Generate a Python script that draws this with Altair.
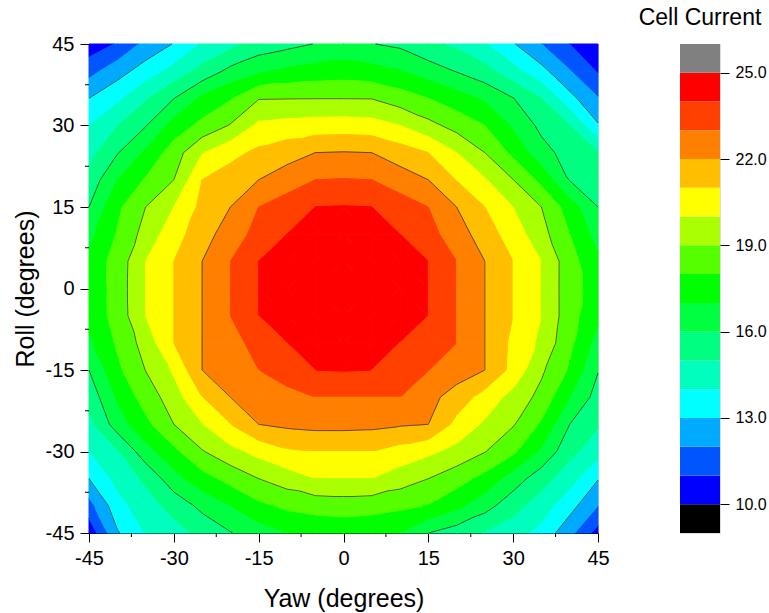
import altair as alt
import pandas as pd

# ---------------- data ----------------
yaw_values = [-45, -40, -35, -30, -25, -20, -15, -10, -5, 0, 5, 10, 15, 20, 25, 30, 35, 40, 45]
roll_values = [45, 40, 35, 30, 25, 20, 15, 10, 5, 0, -5, -10, -15, -20, -25, -30, -35, -40, -45]

# cell current, one row per roll value (top row = roll 45), columns = yaw values
current = [
    [10.4, 11.08, 12.29, 13.05, 14.1, 14.7, 15.41, 15.7, 16.03, 16.3, 16.03, 15.8, 15.2, 14.8, 14.08, 13.08, 12.0, 11.0, 10.4],
    [11.64, 12.6, 13.46, 14.34, 15.33, 16.28, 16.84, 17.2, 17.4, 17.5, 17.35, 17.05, 16.51, 15.95, 15.36, 14.35, 13.33, 12.06, 10.9],
    [13.0, 13.78, 14.88, 15.98, 17.2, 17.9, 18.95, 18.97, 18.98, 18.98, 18.97, 18.5, 18.0, 17.44, 16.84, 16.03, 15.0, 13.33, 12.05],
    [14.0, 14.98, 15.94, 17.39, 18.29, 19.07, 20.2, 20.35, 20.45, 20.48, 20.4, 20.0, 19.31, 18.64, 18.0, 16.86, 15.74, 15.0, 13.1],
    [14.65, 15.93, 17.17, 18.51, 19.94, 20.7, 21.23, 21.61, 22.0, 22.05, 22.0, 21.49, 21.0, 20.0, 19.0, 17.75, 16.38, 15.57, 15.05],
    [15.35, 17.0, 18.09, 19.0, 21.0, 21.49, 22.0, 22.49, 23.0, 23.05, 23.0, 22.5, 22.0, 20.96, 20.09, 19.02, 17.71, 15.95, 15.5],
    [16.0, 17.8, 19.0, 20.0, 21.26, 22.0, 23.0, 23.5, 24.0, 24.05, 24.0, 23.5, 23.0, 22.0, 21.0, 20.0, 19.0, 17.5, 16.0],
    [16.7, 18.06, 19.38, 20.59, 21.57, 22.5, 23.33, 24.0, 24.4, 24.5, 24.4, 24.0, 23.33, 22.5, 21.48, 20.52, 19.37, 18.0, 16.6],
    [17.3, 18.4, 20.0, 21.0, 22.0, 23.0, 24.0, 24.6, 24.85, 24.9, 24.85, 24.6, 24.0, 23.0, 22.0, 21.0, 20.0, 18.4, 17.2],
    [17.2, 18.44, 20.0, 21.0, 22.0, 23.0, 24.0, 24.6, 24.9, 24.95, 24.9, 24.6, 24.0, 23.0, 22.0, 21.0, 20.0, 18.39, 17.5],
    [17.25, 18.4, 20.0, 21.0, 22.0, 23.0, 24.0, 24.6, 24.85, 24.9, 24.85, 24.6, 24.0, 23.0, 22.0, 21.0, 20.0, 18.4, 17.2],
    [16.82, 18.13, 19.42, 21.0, 22.0, 22.67, 23.33, 24.0, 24.4, 24.5, 24.4, 23.98, 23.51, 23.0, 22.0, 20.74, 19.78, 18.24, 16.6],
    [16.0, 17.78, 19.02, 20.14, 22.0, 22.5, 23.0, 23.5, 24.0, 24.05, 24.0, 23.51, 23.02, 22.51, 22.0, 20.67, 19.17, 17.86, 16.05],
    [15.35, 17.14, 18.44, 19.52, 21.0, 22.0, 22.33, 22.67, 23.0, 23.0, 23.0, 23.0, 22.33, 21.55, 20.6, 19.66, 18.69, 17.0, 15.6],
    [14.7, 16.5, 17.73, 19.0, 19.95, 21.0, 22.0, 22.2, 22.3, 22.3, 22.25, 22.1, 22.0, 20.72, 19.85, 19.08, 17.86, 16.0, 15.1],
    [14.0, 14.91, 16.6, 17.74, 18.93, 19.69, 20.31, 20.85, 21.0, 21.0, 21.0, 20.6, 20.2, 19.7, 19.04, 18.18, 16.83, 15.29, 14.4],
    [13.0, 14.3, 15.19, 16.62, 17.59, 18.34, 19.0, 19.5, 20.0, 20.0, 20.0, 19.5, 19.0, 18.41, 17.67, 16.52, 15.42, 14.4, 13.05],
    [11.6, 13.64, 14.54, 15.36, 16.26, 17.0, 17.77, 18.2, 18.4, 18.48, 18.4, 18.2, 17.95, 17.27, 16.38, 15.38, 14.47, 13.38, 12.0],
    [10.3, 12.9, 14.05, 14.6, 15.3, 15.95, 16.5, 17.0, 17.2, 17.3, 17.2, 17.0, 16.0, 15.5, 14.95, 14.4, 13.7, 12.3, 10.6],
]

# colour levels of the map (band code = lower edge; 9 = below 10, 25 = above 25)
band_codes = [9, 10, 11, 12, 13, 14, 15, 16, 17, 18, 19, 20, 21, 22, 23, 24, 25]
band_colors = ["#000000", "#0000FF", "#0055FF", "#00AAFF", "#00FFFF", "#00FFBF", "#00FF80",
               "#00FF40", "#00FF00", "#55FF00", "#AAFF00", "#FFFF00", "#FFBF00", "#FF8000",
               "#FF4000", "#FF0000", "#808080"]
line_levels = [13, 16, 19, 22, 25]
colorbar_ticks = [10, 13, 16, 19, 22, 25]
x_ticks = [-45, -30, -15, 0, 15, 30, 45]
minor_ticks = [-37.5, -22.5, -7.5, 7.5, 22.5, 37.5]

# ---------------- contouring (linear interpolation on a triangulated grid) ----------------
BIG = 1e9


def band_bounds(code):
    if code == 9:
        return -BIG, 10
    if code == 25:
        return 25, BIG
    return code, code + 1


def clip(pts, vals, thr, keep_above):
    out_p, out_v = [], []
    n = len(pts)
    for k in range(n):
        p, v = pts[k], vals[k]
        q, w = pts[(k + 1) % n], vals[(k + 1) % n]
        pin = v >= thr if keep_above else v <= thr
        qin = w >= thr if keep_above else w <= thr
        if pin:
            out_p.append(p)
            out_v.append(v)
        if pin != qin:
            t = (thr - v) / (w - v)
            out_p.append((p[0] + t * (q[0] - p[0]), p[1] + t * (q[1] - p[1])))
            out_v.append(thr)
    return out_p, out_v


def area(pts):
    s = 0.0
    for k in range(len(pts)):
        x1, y1 = pts[k]
        x2, y2 = pts[(k + 1) % len(pts)]
        s += x1 * y2 - x2 * y1
    return abs(s) / 2


poly_rows = []
seg_rows = []
pid = 0
for i in range(len(roll_values) - 1):
    for j in range(len(yaw_values) - 1):
        p00 = (yaw_values[j], roll_values[i]); z00 = current[i][j]
        p01 = (yaw_values[j + 1], roll_values[i]); z01 = current[i][j + 1]
        p10 = (yaw_values[j], roll_values[i + 1]); z10 = current[i + 1][j]
        p11 = (yaw_values[j + 1], roll_values[i + 1]); z11 = current[i + 1][j + 1]
        if abs(z00 - z11) <= abs(z01 - z10):
            tris = [([p00, p01, p11], [z00, z01, z11]), ([p00, p11, p10], [z00, z11, z10])]
        else:
            tris = [([p00, p01, p10], [z00, z01, z10]), ([p01, p11, p10], [z01, z11, z10])]
        for pts, vals in tris:
            zmin, zmax = min(vals), max(vals)
            for code in band_codes:
                lo, hi = band_bounds(code)
                if hi < zmin or lo > zmax:
                    continue
                pp, vv = clip(pts, vals, lo, True)
                if len(pp) < 3:
                    continue
                pp, vv = clip(pp, vv, hi, False)
                if len(pp) < 3 or area(pp) < 1e-6:
                    continue
                ring = pp + [pp[0]]
                for k, (x, y) in enumerate(ring):
                    poly_rows.append({"pid": pid, "k": k, "yaw": x, "roll": y, "band": code})
                pid += 1
            for lev in line_levels:
                above = [v >= lev for v in vals]
                if all(above) or not any(above):
                    continue
                cross = []
                for a in range(3):
                    b = (a + 1) % 3
                    if above[a] != above[b]:
                        t = (lev - vals[a]) / (vals[b] - vals[a])
                        cross.append((pts[a][0] + t * (pts[b][0] - pts[a][0]),
                                      pts[a][1] + t * (pts[b][1] - pts[a][1])))
                if len(cross) == 2:
                    (xa, ya), (xb, yb) = cross
                    if abs(xa - xb) + abs(ya - yb) > 1e-6:
                        seg_rows.append({"x1": xa, "y1": ya, "x2": xb, "y2": yb})

poly_df = pd.DataFrame(poly_rows)
seg_df = pd.DataFrame(seg_rows)
minor_df = pd.DataFrame({"v": minor_ticks})

cb_df = pd.DataFrame({
    "band": band_codes,
    "lo": [band_bounds(c)[0] if c != 9 else 9 for c in band_codes],
    "hi": [band_bounds(c)[1] if c != 25 else 26 for c in band_codes],
})

# ---------------- chart ----------------
FONT = "Liberation Sans"
W, H = 509, 489

xscale = alt.Scale(domain=[-45, 45], nice=False, zero=False)
yscale = alt.Scale(domain=[-45, 45], nice=False, zero=False)
color_scale = alt.Scale(domain=band_codes, range=band_colors)

x_axis = alt.Axis(values=x_ticks, title="Yaw (degrees)", tickSize=9, tickColor="black",
                  domainColor="black", labelFontSize=20, labelColor="black", labelFont=FONT,
                  labelPadding=6, labelFlush=False, labelExpr="'' + datum.value",
                  titleFontSize=25, titleFont=FONT,
                  titleFontWeight="normal", titleColor="black", titlePadding=18, grid=False)
y_axis = alt.Axis(values=x_ticks, title="Roll (degrees)", tickSize=9, tickColor="black",
                  domainColor="black", labelFontSize=20, labelColor="black", labelFont=FONT,
                  labelPadding=6, labelFlush=False, labelExpr="'' + datum.value",
                  titleFontSize=25, titleFont=FONT,
                  titleFontWeight="normal", titleColor="black", titlePadding=7, grid=False)

fills = alt.Chart(poly_df).mark_line(filled=True, strokeWidth=1.0, interpolate="linear").encode(
    x=alt.X("yaw:Q", scale=xscale, axis=x_axis),
    y=alt.Y("roll:Q", scale=yscale, axis=y_axis),
    color=alt.Color("band:O", scale=color_scale, legend=None),
    stroke=alt.Stroke("band:O", scale=alt.Scale(domain=band_codes, range=band_colors), legend=None),
    detail="pid:N",
    order="k:Q",
)

lines = alt.Chart(seg_df).mark_rule(color="#3a3a3a", strokeWidth=0.8).encode(
    x="x1:Q", y="y1:Q", x2="x2:Q", y2="y2:Q"
)

minor_x = alt.Chart(minor_df).mark_rule(color="black", strokeWidth=1).encode(
    x="v:Q", y=alt.value(H), y2=alt.value(H + 4)
)
minor_y = alt.Chart(minor_df).mark_rule(color="black", strokeWidth=1).encode(
    y="v:Q", x=alt.value(0), x2=alt.value(-4)
)

main = alt.layer(fills, lines, minor_x, minor_y).properties(width=W, height=H)

cbar = alt.Chart(cb_df).mark_rect().encode(
    y=alt.Y("lo:Q", scale=alt.Scale(domain=[9, 26], nice=False, zero=False),
            axis=alt.Axis(orient="right", values=colorbar_ticks, format=".1f", tickSize=9,
                          tickColor="black", domain=False, labelFontSize=16, labelFont=FONT,
                          labelColor="black", labelPadding=6, labelFlush=False, title=None,
                          grid=False)),
    y2="hi:Q",
    x=alt.value(0),
    x2=alt.value(40),
    color=alt.Color("band:O", scale=color_scale, legend=None),
).properties(
    width=40, height=H,
    title=alt.TitleParams("Cell Current", fontSize=23, font=FONT, fontWeight="normal",
                          color="black", anchor="middle", offset=14),
)

chart = alt.hconcat(main, cbar, spacing=82, bounds="flush").properties(
    padding={"left": 12, "top": 6, "right": 2, "bottom": 2}
).configure_view(stroke="black", strokeWidth=1).configure(background="white")

chart.save("out.html", embed_options={"renderer": "svg", "actions": False})
